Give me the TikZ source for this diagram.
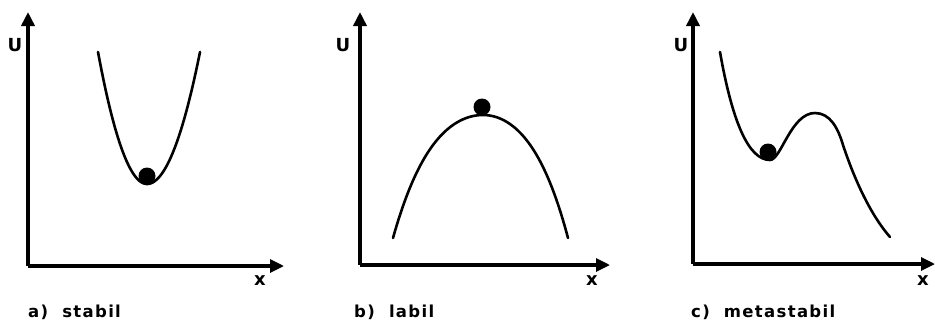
\documentclass[tikz,border=0pt]{standalone}
\usepackage{fontspec}
\setmainfont{DejaVu Sans}
\usetikzlibrary{arrows.meta}
\tikzset{
  yaxis/.style={line width=4.2pt,-{Triangle[width=13pt,length=14pt]}},
  xaxis/.style={line width=3.2pt,-{Triangle[width=13pt,length=14pt]}},
  curve/.style={line width=2.6pt,line cap=round},
  ball/.style={circle,fill=black,inner sep=0pt,minimum size=17pt},
  lbl/.style={font=\bfseries\fontsize{16.5}{16.5}\selectfont\addfontfeatures{LetterSpace=8},inner sep=0pt,anchor=base west},
  axlbl/.style={font=\bfseries\fontsize{18}{18}\selectfont,inner sep=0pt}
}
\begin{document}
\begin{tikzpicture}[x=1pt,y=-1pt]
\useasboundingbox (0,0) rectangle (935,322);
% panel a
\coordinate (oa) at (28,266);
\coordinate (ya) at (28,12);
\coordinate (xa) at (284,266);
\draw[yaxis] (oa) -- (ya);
\draw[xaxis] (oa) -- (xa);
\node[axlbl] (ua) at (15,45) {U};
\node[axlbl] (xla) at (260,281) {x};
\draw[curve] plot[domain=-49:0,samples=40] ({147+\x},{184-0.055*\x*\x})
  -- plot[domain=0:53,samples=40] ({147+\x},{184-0.047*\x*\x});
\node[ball] (ba) at (147,176) {};
\node[lbl] (ta) at (28,317) {a)\ \ stabil};
% panel b
\coordinate (ob) at (360,265);
\coordinate (yb) at (360,12);
\coordinate (xb) at (610,265);
\draw[yaxis] (ob) -- (yb);
\draw[xaxis] (ob) -- (xb);
\node[axlbl] (ub) at (343,45) {U};
\node[axlbl] (xlb) at (592,281) {x};
\draw[curve] plot[domain=-9:0,samples=50] ({483+10*\x},{115+1.06*\x*\x+0.00566*\x*\x*\x*\x})
  -- plot[domain=0:9,samples=50] ({483+85/9*\x},{115+1.06*(\x)*(\x)+0.00566*(\x)*(\x)*(\x)*(\x)});
\node[ball] (bb) at (482,107) {};
\node[lbl] (tb) at (354,317) {b)\ \ labil};
% panel c
\coordinate (oc) at (693,264);
\coordinate (yc) at (693,12);
\coordinate (xc) at (935,264);
\draw[yaxis] (oc) -- (yc);
\draw[xaxis] (oc) -- (xc);
\node[axlbl] (uc) at (681,45) {U};
\node[axlbl] (xlc) at (923,281) {x};
\draw[curve] (720,52) .. controls (732,120) and (748,160) .. (770,160)
  .. controls (781,160) and (791,113) .. (815,113)
  .. controls (830,113) and (838,128) .. (843,145)
  .. controls (858,190) and (875,220) .. (890,237);
\node[ball] (bc) at (768,152) {};
\node[lbl] (tc) at (691,317) {c)\ \ metastabil};
\end{tikzpicture}
\end{document}
